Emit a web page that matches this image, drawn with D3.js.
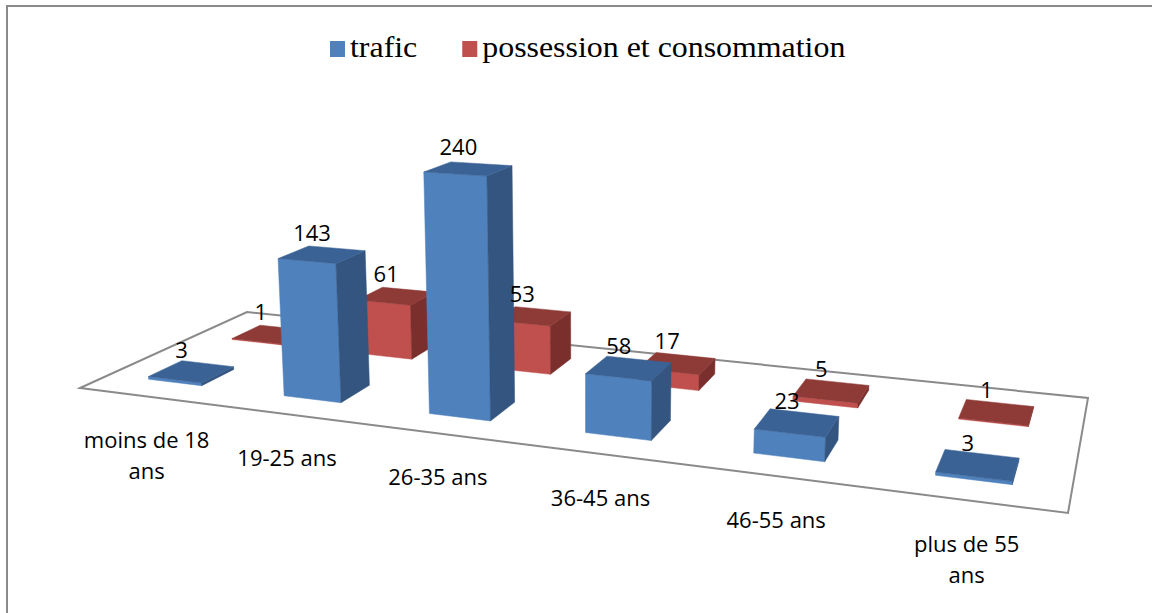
<!DOCTYPE html>
<html>
<head>
<meta charset="utf-8">
<script src="https://cdn.jsdelivr.net/npm/d3@7"></script>
<style>
  body { margin: 0; background: #fff; }
  .valueText { font-family: "Open Sans", sans-serif; font-size: 22px; fill: #000; }
  .catText { font-family: "Open Sans", sans-serif; font-size: 22px; fill: #000; }
  .legendText { font-family: "Liberation Serif", "Times New Roman", serif; font-size: 29px; fill: #000; }
</style>
</head>
<body>
<div class="chart"></div>
<script>
// Data
var categories = ["moins de 18 ans", "19-25 ans", "26-35 ans", "36-45 ans", "46-55 ans", "plus de 55 ans"];
var seriesNames = ["trafic", "possession et consommation"];
var trafic = [3, 143, 240, 58, 23, 3];
var possession = [1, 61, 53, 17, 5, 1];

var seriesValues = [trafic, possession];
var frontColors = ["#4F81BD", "#C0504D"];
var topColors = ["#3B6294", "#8E3A37"];
var sideColors = ["#33557F", "#7A2F2C"];

var svgWidth = 1152;
var svgHeight = 613;

var svg = d3.select(".chart")
  .append("svg")
  .attr("width", svgWidth)
  .attr("height", svgHeight);

// chart frame (right and bottom edges fall outside the picture)
svg.append("rect")
  .attr("x", 7)
  .attr("y", 6)
  .attr("width", 1200)
  .attr("height", 700)
  .attr("fill", "none")
  .attr("stroke", "#8a8a8a")
  .attr("stroke-width", 2);

// Projection: floor plane (u along categories, v along depth) seen in perspective
// floor corners on screen: front-left, front-right, back-right, back-left
var floorCorners = [[80, 388], [1068, 513], [1088, 398], [247, 312]];

function squareToQuad(p) {
  var x0 = p[0][0], y0 = p[0][1], x1 = p[1][0], y1 = p[1][1];
  var x2 = p[2][0], y2 = p[2][1], x3 = p[3][0], y3 = p[3][1];
  var dx1 = x1 - x2, dx2 = x3 - x2, dx3 = x0 - x1 + x2 - x3;
  var dy1 = y1 - y2, dy2 = y3 - y2, dy3 = y0 - y1 + y2 - y3;
  var det = dx1 * dy2 - dx2 * dy1;
  var g = (dx3 * dy2 - dx2 * dy3) / det;
  var h = (dx1 * dy3 - dx3 * dy1) / det;
  return {
    a: x1 - x0 + g * x1, b: x3 - x0 + h * x3, c: x0,
    d: y1 - y0 + g * y1, e: y3 - y0 + h * y3, f: y0,
    g: g, h: h
  };
}

var H = squareToQuad(floorCorners);
var verticalVP = [590, 7300]; // verticals converge far below
var lift = -0.0335;           // strength of the vertical axis

function project(u, v, y) {
  var k = lift * y;
  var X = H.a * u + H.b * v + H.c + k * verticalVP[0];
  var Y = H.d * u + H.e * v + H.f + k * verticalVP[1];
  var W = H.g * u + H.h * v + 1 + k;
  return [X / W, Y / W];
}

// Scales
var xScale = d3.scaleBand()
  .domain(categories)
  .range([0, 1])
  .paddingInner(0.6)
  .paddingOuter(0.3);

var zScale = d3.scalePoint()
  .domain(seriesNames)
  .range([0, 1])
  .padding(0.5);
var barDepth = 0.19;

var yScale = d3.scaleLinear()
  .domain([0, 250])
  .range([0, 1]);

var line = d3.line();

// Floor
var floorPts = [[0, 0], [1, 0], [1, 1], [0, 1]].map(function(c) { return project(c[0], c[1], 0); });
svg.append("path")
  .attr("d", line(floorPts) + "Z")
  .attr("fill", "#fff")
  .attr("stroke", "#8a8a8a")
  .attr("stroke-width", 2);

// Bars: back row first
var bars = [];
for (var s = seriesNames.length - 1; s >= 0; s--) {
  categories.forEach(function(cat, i) {
    bars.push({ s: s, cat: cat, value: seriesValues[s][i] });
  });
}

bars.forEach(function(d) {
  var u0 = xScale(d.cat), u1 = u0 + xScale.bandwidth();
  var vc = zScale(seriesNames[d.s]);
  var v0 = vc - barDepth / 2, v1 = vc + barDepth / 2;
  var h = yScale(d.value);
  d.faces = [
    { fill: frontColors[d.s], pts: [project(u0, v0, 0), project(u1, v0, 0), project(u1, v0, h), project(u0, v0, h)] },
    { fill: sideColors[d.s], pts: [project(u1, v0, 0), project(u1, v1, 0), project(u1, v1, h), project(u1, v0, h)] },
    { fill: topColors[d.s], pts: [project(u0, v0, h), project(u1, v0, h), project(u1, v1, h), project(u0, v1, h)] }
  ];
  d.label = project((u0 + u1) / 2, vc, h);
});

var barGroups = svg.selectAll("g.bar")
  .data(bars)
  .enter()
  .append("g")
  .attr("class", "bar");

barGroups.selectAll("path")
  .data(function(d) { return d.faces; })
  .enter()
  .append("path")
  .attr("d", function(f) { return line(f.pts) + "Z"; })
  .attr("fill", function(f) { return f.fill; })
  .attr("stroke", function(f) { return f.fill; })
  .attr("stroke-width", 0.5)
  .attr("stroke-linejoin", "round");

// Value labels
svg.selectAll("text.valueText")
  .data(bars)
  .enter()
  .append("text")
  .attr("class", "valueText")
  .attr("x", function(d) { return d.label[0] - 10; })
  .attr("y", function(d) { return d.label[1] - 23; })
  .attr("text-anchor", "middle")
  .attr("dominant-baseline", "central")
  .text(function(d) { return d.value; });

// Category labels, wrapped when too wide
var maxLabelWidth = 135;
categories.forEach(function(cat) {
  var p = project(xScale(cat) + xScale.bandwidth() / 2, 0, 0);
  var t = svg.append("text")
    .attr("class", "catText")
    .attr("text-anchor", "middle")
    .attr("dominant-baseline", "central");
  var words = cat.split(" ");
  var lines = [];
  var current = [];
  words.forEach(function(w) {
    var trial = current.concat([w]).join(" ");
    t.text(trial);
    if (t.node().getComputedTextLength() > maxLabelWidth && current.length) {
      lines.push(current.join(" "));
      current = [w];
    } else {
      current.push(w);
    }
  });
  lines.push(current.join(" "));
  t.text(null);
  lines.forEach(function(l, j) {
    t.append("tspan")
      .attr("x", p[0])
      .attr("y", p[1] + 43 + j * 31)
      .text(l);
  });
});

// Legend
var legend = svg.append("g").attr("class", "legend");
var lx = 330;
seriesNames.forEach(function(name, i) {
  legend.append("rect")
    .attr("x", lx)
    .attr("y", 41)
    .attr("width", 15)
    .attr("height", 16)
    .attr("fill", frontColors[i]);
  var t = legend.append("text")
    .attr("class", "legendText")
    .attr("transform", "translate(" + (lx + 20) + ",57) scale(1.1,1)")
    .text(name);
  lx += 20 + t.node().getComputedTextLength() * 1.1 + 45;
});
</script>
</body>
</html>
